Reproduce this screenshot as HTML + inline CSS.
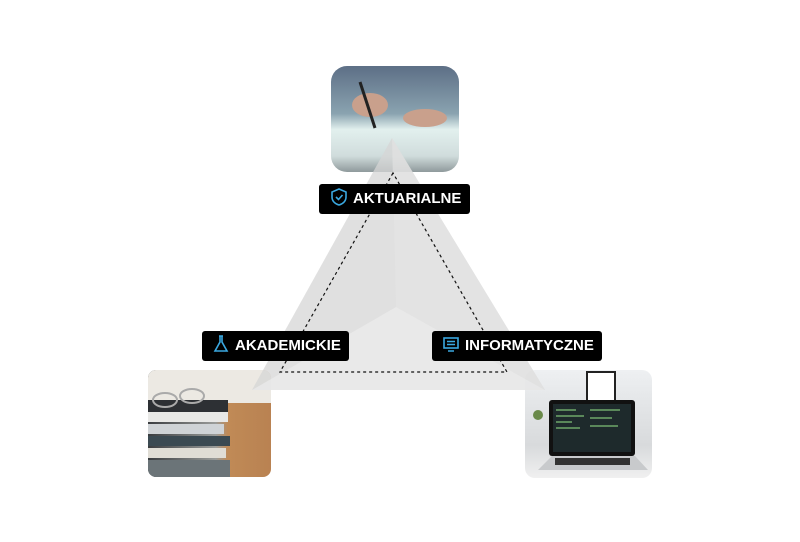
<!DOCTYPE html>
<html><head><meta charset="utf-8"><style>
html,body{margin:0;padding:0;background:#fff;width:800px;height:542px;overflow:hidden}
.lbl{position:absolute;background:#000;color:#fff;font-family:"Liberation Sans",sans-serif;font-weight:bold;font-size:15px;height:30px;line-height:30px;border-radius:3px;box-sizing:border-box;white-space:nowrap}
</style></head><body>
<svg width="800" height="542" style="position:absolute;left:0;top:0">
<defs>
<linearGradient id="g1" x1="0" y1="0" x2="0" y2="1"><stop offset="0" stop-color="#5d6f86"/><stop offset="0.45" stop-color="#8aa3b0"/><stop offset="0.6" stop-color="#e2f0ee"/><stop offset="0.85" stop-color="#d0dcdc"/><stop offset="1" stop-color="#8f9a9c"/></linearGradient>
<linearGradient id="g2" x1="0" y1="0" x2="1" y2="0"><stop offset="0" stop-color="#3a3d40"/><stop offset="0.55" stop-color="#9a9c9a"/><stop offset="0.65" stop-color="#c08a56"/><stop offset="1" stop-color="#b98252"/></linearGradient>
<linearGradient id="g3" x1="0" y1="0" x2="0" y2="1"><stop offset="0" stop-color="#eef0f2"/><stop offset="0.3" stop-color="#e4e6e8"/><stop offset="0.7" stop-color="#d8dadc"/><stop offset="1" stop-color="#f0f0f0"/></linearGradient>
<clipPath id="c1"><rect x="331" y="66" width="128" height="106" rx="16"/></clipPath>
<clipPath id="c2"><rect x="148" y="370" width="123" height="107" rx="8"/></clipPath>
<clipPath id="c3"><rect x="525" y="370" width="127" height="108" rx="10"/></clipPath>
</defs>
<g clip-path="url(#c1)"><rect x="331" y="66" width="128" height="106" fill="url(#g1)"/>
<ellipse cx="370" cy="105" rx="18" ry="12" fill="#c9a08c"/><ellipse cx="425" cy="118" rx="22" ry="9" fill="#c9a08c"/><line x1="360" y1="82" x2="375" y2="128" stroke="#222" stroke-width="3"/></g>
<g clip-path="url(#c2)"><rect x="148" y="370" width="123" height="107" fill="url(#g2)"/>
<rect x="148" y="370" width="123" height="33" fill="#ece9e3"/>
<rect x="148" y="400" width="80" height="12" fill="#2d3034"/><rect x="148" y="412" width="80" height="10" fill="#e8e8e6"/><rect x="148" y="424" width="76" height="10" fill="#cfd3d6"/><rect x="148" y="436" width="82" height="10" fill="#3b4a52"/><rect x="148" y="448" width="78" height="10" fill="#e0ddd5"/><rect x="148" y="460" width="82" height="17" fill="#6b7478"/>
<ellipse cx="165" cy="400" rx="12" ry="7" fill="none" stroke="#aaa" stroke-width="2"/><ellipse cx="192" cy="396" rx="12" ry="7" fill="none" stroke="#aaa" stroke-width="2"/></g>
<g clip-path="url(#c3)"><rect x="525" y="370" width="127" height="108" fill="url(#g3)"/>
<rect x="587" y="372" width="28" height="30" fill="#fff" stroke="#222" stroke-width="2"/>
<rect x="549" y="400" width="86" height="56" rx="3" fill="#111"/><rect x="553" y="404" width="78" height="48" fill="#1e2a2c"/>
<path d="M556 410 h20 M556 416 h28 M556 422 h16 M556 428 h24 M590 410 h30 M590 418 h22 M590 426 h28" stroke="#6fa86a" stroke-width="1.5"/>
<path d="M538 470 L552 456 L635 456 L648 470Z" fill="#c8cacc"/><rect x="555" y="458" width="75" height="7" fill="#333"/>
<circle cx="538" cy="415" r="5" fill="#6a8a4a"/></g>
<polygon points="392,138 252,390 545,390" fill="#d6d6d6" fill-opacity="0.75"/>
<polygon points="392,138 396,307 545,390" fill="#e4e4e4" fill-opacity="0.6"/>
<polygon points="396,307 252,390 545,390" fill="#ececec" fill-opacity="0.7"/>
<polygon points="393,173 280,372 507,372" fill="none" stroke="#111" stroke-width="1.2" stroke-dasharray="3,3"/>
</svg>
<div class="lbl" style="left:319px;top:184px;width:151px;padding-left:12px">
<svg width="16" height="18" style="vertical-align:-3px;margin-right:6px"><path d="M8 1 L15 4 V9 C15 13 12 16 8 17 C4 16 1 13 1 9 V4Z" fill="none" stroke="#3aa8e0" stroke-width="1.6"/><path d="M5 9 L7.5 11.5 L11.5 7" fill="none" stroke="#3aa8e0" stroke-width="1.6"/></svg>AKTUARIALNE</div>
<div class="lbl" style="left:202px;top:331px;width:147px;padding-left:11px">
<svg width="16" height="18" style="vertical-align:-3px;margin-right:6px"><path d="M6 1 H10 M7 1 V7 L2 16 H14 L9 7 V1" fill="none" stroke="#3aa8e0" stroke-width="1.6"/></svg>AKADEMICKIE</div>
<div class="lbl" style="left:432px;top:331px;width:170px;padding-left:11px">
<svg width="16" height="18" style="vertical-align:-3px;margin-right:6px"><rect x="1" y="3" width="14" height="10" fill="none" stroke="#3aa8e0" stroke-width="1.6"/><path d="M4 6.5H12M4 9.5H12M5 16H11" stroke="#3aa8e0" stroke-width="1.4"/></svg>INFORMATYCZNE</div>
</body></html>
